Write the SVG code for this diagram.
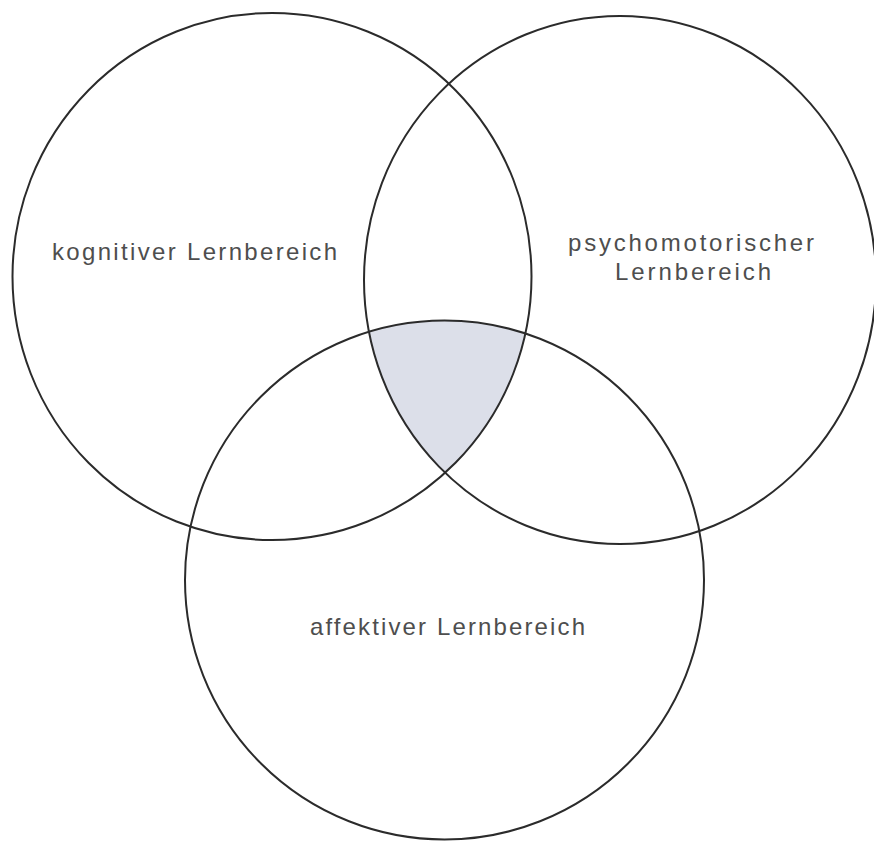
<svg xmlns="http://www.w3.org/2000/svg" width="874" height="843" viewBox="0 0 874 843">
<style>
.ring{fill:none;stroke:#2b2b2b;stroke-width:2}
.lbl{font-family:"Liberation Sans",Arial,sans-serif;font-size:24px;fill:#4e4e4e}
</style>
<defs>
<clipPath id="clipA"><ellipse cx="272" cy="276.5" rx="259.5" ry="263.5"/></clipPath>
<clipPath id="clipB"><ellipse cx="620" cy="280" rx="256" ry="264"/></clipPath>
</defs>
<rect width="874" height="843" fill="#ffffff"/>
<g id="overlap">
<g clip-path="url(#clipA)"><g clip-path="url(#clipB)">
<ellipse cx="444.5" cy="580" rx="259.5" ry="259.5" fill="#dcdfe9"/>
</g></g>
</g>
<g id="kognitiv">
<ellipse class="ring" cx="272" cy="276.5" rx="259.5" ry="263.5"/>
<text class="lbl" x="52" y="260" textLength="285" lengthAdjust="spacing">kognitiver Lernbereich</text>
</g>
<g id="psychomotorisch">
<ellipse class="ring" cx="620" cy="280" rx="256" ry="264"/>
<text class="lbl" x="568" y="251" textLength="246" lengthAdjust="spacing">psychomotorischer</text>
<text class="lbl" x="615" y="280" textLength="156" lengthAdjust="spacing">Lernbereich</text>
</g>
<g id="affektiv">
<ellipse class="ring" cx="444.5" cy="580" rx="259.5" ry="259.5"/>
<text class="lbl" x="310" y="635" textLength="275" lengthAdjust="spacing">affektiver Lernbereich</text>
</g>
</svg>
